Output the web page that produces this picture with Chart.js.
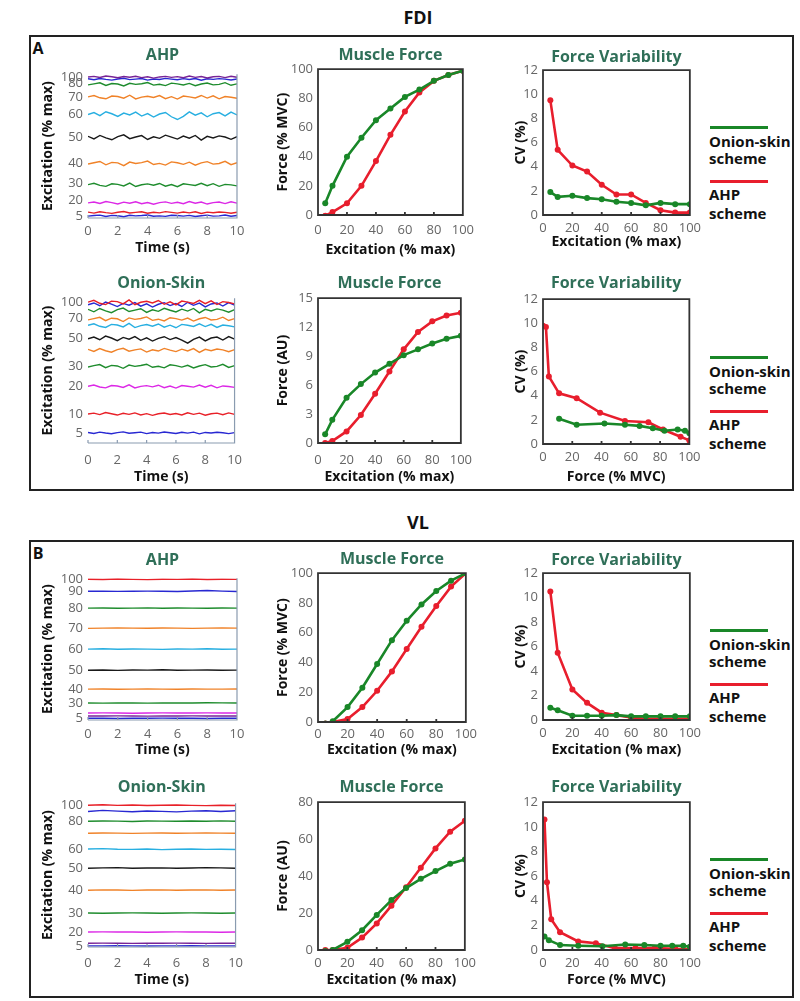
<!DOCTYPE html>
<html>
<head>
<meta charset="utf-8">
<script src="https://cdn.jsdelivr.net/npm/chart.js@4.4.1/dist/chart.umd.min.js"></script>
<style>
  body { margin: 0; background: #fff; font-family: 'Open Sans', sans-serif; }
  #page { position: relative; width: 800px; height: 1001px; overflow: hidden; }
  canvas { position: absolute; }
  .box { position: absolute; border: 2px solid #222; box-sizing: border-box; }
  .txt { position: absolute; font-weight: bold; color: #111; white-space: nowrap; line-height: 1; transform: translate(-50%, -50%); }
  .leg { position: absolute; font-weight: bold; font-size: 15px; color: #111; line-height: 1; white-space: nowrap; transform: translateY(-50%); }
  .legline { position: absolute; height: 3px; }
</style>
</head>
<body>
<div id="page">
  <div class="txt" style="left:418px;top:17px;font-size:18px;">FDI</div>
  <div class="box" style="left:29px;top:35px;width:765px;height:456px;"></div>
  <div class="txt" style="left:38px;top:48px;font-size:16px;">A</div>
  <div class="txt" style="left:418px;top:522px;font-size:18px;">VL</div>
  <div class="box" style="left:29px;top:540px;width:765px;height:458px;"></div>
  <div class="txt" style="left:38px;top:553px;font-size:16px;">B</div>
</div>
<script>
// 時間軸 (s)
const timeA = [0, 0.4, 0.8, 1.2, 1.6, 2, 2.4, 2.8, 3.2, 3.6, 4, 4.4, 4.8, 5.2, 5.6, 6, 6.4, 6.8, 7.2, 7.6, 8, 8.4, 8.8, 9.2, 9.6, 10];
const timeB = [0, 1, 2, 3, 4, 5, 6, 7, 8, 9, 10];

// 励起レベル (% max)
const excitation = [5, 10, 20, 30, 40, 50, 60, 70, 80, 90, 100];

// FDI / AHP の励起トレース
const fdiAhpTraces = [
  [98.0, 98.5, 97.7, 98.7, 98.2, 97.5, 98.4, 97.9, 98.6, 97.6, 98.2, 97.3, 98.1, 98.5, 97.8, 98.3, 97.5, 98.7, 97.8, 98.4, 97.4, 98.2, 98.5, 97.6, 98.6, 97.9],
  [96.8, 96.1, 97.0, 96.4, 95.9, 96.7, 97.2, 96.2, 96.6, 97.0, 95.9, 96.7, 96.3, 97.1, 96.6, 96.1, 96.9, 96.3, 97.0, 95.8, 96.8, 96.4, 96.9, 96.6, 96.0, 96.7],
  [92.6, 93.3, 94.0, 92.2, 93.5, 93.2, 91.8, 93.7, 92.9, 93.4, 94.2, 92.4, 93.0, 92.1, 93.8, 93.3, 92.5, 93.6, 92.0, 93.2, 93.9, 92.6, 92.9, 94.1, 92.3, 93.3],
  [84.2, 85.2, 83.6, 82.9, 84.8, 84.5, 83.3, 85.4, 82.8, 84.1, 84.7, 83.8, 85.1, 83.0, 84.4, 82.7, 84.8, 84.2, 83.5, 85.2, 83.4, 85.0, 82.9, 84.5, 84.0, 83.3],
  [72.0, 73.3, 71.2, 73.9, 72.5, 70.6, 73.0, 71.7, 73.6, 70.9, 72.6, 70.2, 72.3, 73.4, 70.4, 68.5, 70.7, 73.8, 71.5, 73.1, 70.4, 72.5, 73.3, 71.0, 73.6, 71.7],
  [56.8, 55.0, 57.4, 55.7, 54.4, 56.6, 57.8, 55.2, 56.3, 57.3, 54.6, 56.5, 55.4, 57.6, 56.2, 54.9, 57.0, 55.5, 57.4, 54.2, 56.8, 55.7, 57.1, 56.3, 54.7, 56.6],
  [37.5, 38.4, 39.3, 37.0, 38.7, 38.3, 36.4, 38.9, 37.9, 38.5, 39.6, 37.2, 38.0, 36.8, 39.0, 38.4, 37.3, 38.8, 36.7, 38.3, 39.2, 37.5, 37.9, 39.4, 37.1, 38.4],
  [23.2, 24.1, 22.7, 22.0, 23.8, 23.4, 22.3, 24.3, 21.9, 23.1, 23.7, 22.8, 24.0, 22.1, 23.3, 21.8, 23.8, 23.2, 22.6, 24.1, 22.5, 23.9, 22.0, 23.4, 23.0, 22.3],
  [10.5, 11.1, 10.1, 11.5, 10.7, 9.8, 11.0, 10.3, 11.3, 9.9, 10.8, 9.6, 10.7, 11.2, 10.2, 10.9, 9.9, 11.4, 10.3, 11.1, 9.7, 10.7, 11.1, 10.0, 11.3, 10.3],
  [4.1, 3.4, 4.3, 3.7, 3.2, 4.0, 4.5, 3.5, 3.9, 4.3, 3.3, 4.0, 3.6, 4.4, 3.9, 3.4, 4.2, 3.6, 4.3, 3.1, 4.1, 3.7, 4.2, 3.9, 3.3, 4.0],
  [1.3, 1.7, 2.0, 1.1, 1.8, 1.6, 0.9, 1.9, 1.5, 1.7, 2.1, 1.2, 1.5, 1.1, 1.9, 1.7, 1.3, 1.8, 1.0, 1.6, 2.0, 1.3, 1.5, 2.1, 1.2, 1.7]
];
const fdiAhpColors = ['purple', 'blue', 'green', 'orange', 'cyan', 'black', 'orange', 'green', 'magenta', 'red', 'blue'];
const fdiAhpTickPos = [98, 93.5, 84, 72, 56, 38, 24, 12, 1.5];
const fdiAhpTickLabels = ['100', '80', '70', '60', '50', '40', '30', '20', '5'];

// FDI / Onion-Skin の励起トレース
const fdiOnionTraces = [
  [97.3, 98.5, 96.5, 95.6, 98.0, 97.6, 96.1, 98.8, 95.5, 97.2, 97.9, 96.7, 98.4, 95.8, 97.5, 95.4, 98.0, 97.3, 96.4, 98.5, 96.2, 98.2, 95.6, 97.6, 97.0, 96.1],
  [95.5, 96.7, 94.8, 97.3, 95.9, 94.2, 96.4, 95.2, 97.0, 94.5, 96.1, 93.9, 95.8, 96.9, 94.9, 96.3, 94.3, 97.2, 95.1, 96.6, 94.0, 96.0, 96.7, 94.6, 97.0, 95.2],
  [92.3, 90.6, 92.9, 91.2, 90.0, 92.1, 93.2, 90.8, 91.8, 92.7, 90.2, 92.0, 90.9, 93.0, 91.7, 90.5, 92.4, 91.1, 92.9, 89.9, 92.3, 91.2, 92.6, 91.8, 90.3, 92.1],
  [85.0, 85.9, 86.8, 84.5, 86.2, 85.8, 83.9, 86.4, 85.4, 86.0, 87.1, 84.7, 85.5, 84.3, 86.5, 85.9, 84.9, 86.3, 84.2, 85.8, 86.7, 85.0, 85.4, 86.9, 84.6, 85.9],
  [81.3, 82.3, 80.6, 79.8, 81.9, 81.5, 80.2, 82.6, 79.7, 81.1, 81.8, 80.7, 82.2, 80.0, 81.4, 79.6, 81.9, 81.3, 80.5, 82.3, 80.4, 82.0, 79.8, 81.5, 81.0, 80.2],
  [72.0, 73.2, 71.3, 73.8, 72.5, 70.7, 72.9, 71.7, 73.5, 70.9, 72.6, 70.4, 72.3, 73.4, 71.4, 72.8, 71.0, 69.0, 71.6, 73.1, 70.5, 72.5, 73.2, 71.1, 73.5, 71.7],
  [64.7, 63.2, 65.2, 63.7, 62.7, 64.5, 65.4, 63.4, 64.3, 65.0, 62.8, 64.4, 63.5, 65.3, 64.1, 63.1, 64.8, 63.6, 65.2, 62.6, 64.7, 63.7, 64.9, 64.3, 63.0, 64.5],
  [52.5, 53.4, 54.2, 52.0, 53.6, 53.2, 51.6, 53.8, 52.9, 53.5, 54.4, 52.3, 53.0, 51.9, 54.0, 53.4, 52.4, 53.7, 51.8, 53.2, 54.1, 52.5, 52.9, 54.3, 52.2, 53.4],
  [39.2, 40.0, 38.7, 38.1, 39.7, 39.4, 38.4, 40.2, 38.0, 39.1, 39.6, 38.8, 39.9, 38.2, 39.3, 37.9, 39.7, 39.2, 38.6, 40.0, 38.5, 39.8, 38.1, 39.4, 39.0, 38.4],
  [20.0, 20.6, 19.6, 21.0, 20.2, 19.3, 20.5, 19.8, 20.8, 19.4, 20.3, 19.1, 20.2, 20.7, 19.7, 20.4, 19.4, 20.9, 19.8, 20.6, 19.2, 20.2, 20.6, 19.5, 20.8, 19.8],
  [7.3, 6.6, 7.5, 6.9, 6.4, 7.2, 7.7, 6.7, 7.1, 7.5, 6.5, 7.2, 6.8, 7.6, 7.1, 6.6, 7.4, 6.8, 7.5, 6.3, 7.3, 6.9, 7.4, 7.1, 6.5, 7.2]
];
const fdiOnionColors = ['red', 'blue', 'green', 'orange', 'cyan', 'black', 'orange', 'green', 'magenta', 'red', 'blue'];
const fdiOnionTickPos = [97, 86, 72, 53, 39, 20, 7];
const fdiOnionTickLabels = ['100', '70', '50', '30', '20', '10', '5'];

// VL / AHP の励起トレース
const vlAhpTraces = [
  [99.3, 99.1, 99.4, 99.2, 99.0, 99.3, 99.2, 99.4, 99.1, 99.3, 99.2],
  [90.8, 90.9, 90.7, 90.8, 90.9, 90.8, 90.6, 91.0, 91.3, 90.9, 90.6],
  [78.9, 79.0, 78.8, 78.9, 79.1, 78.8, 79.0, 78.9, 78.8, 79.0, 78.9],
  [64.6, 64.8, 65.0, 64.8, 64.7, 64.9, 64.8, 64.6, 64.8, 64.9, 64.8],
  [50.0, 50.2, 49.9, 50.1, 50.0, 49.8, 50.1, 50.0, 50.2, 49.9, 50.0],
  [35.1, 35.3, 35.0, 35.3, 35.2, 35.4, 35.1, 35.2, 35.3, 35.1, 35.2],
  [21.8, 21.9, 21.7, 21.8, 21.9, 21.8, 21.7, 21.9, 21.8, 21.8, 21.9],
  [12.0, 11.9, 12.1, 12.0, 11.9, 12.1, 12.0, 12.0, 12.2, 12.1, 12.0],
  [4.9, 5.0, 4.9, 4.8, 4.9, 5.0, 4.9, 4.9, 5.0, 4.9, 4.9],
  [2.8, 2.8, 2.9, 2.8, 2.7, 2.8, 2.8, 2.9, 2.8, 2.8, 2.8],
  [1.2, 1.2, 1.1, 1.2, 1.2, 1.3, 1.2, 1.2, 1.1, 1.2, 1.2]
];
const vlAhpColors = ['red', 'blue', 'green', 'orange', 'cyan', 'black', 'orange', 'green', 'magenta', 'purple', 'blue'];
const vlAhpTickPos = [99.5, 90.8, 78.9, 64.8, 50, 35.2, 21.8, 12, 1.4];
const vlAhpTickLabels = ['100', '90', '80', '70', '60', '50', '40', '30', '5'];

// VL / Onion-Skin の励起トレース
const vlOnionTraces = [
  [98.6, 98.9, 98.5, 98.7, 98.4, 98.6, 98.8, 98.5, 98.3, 98.6, 98.4],
  [94.2, 95.0, 94.5, 94.1, 94.6, 94.3, 94.0, 94.5, 94.8, 94.2, 94.7],
  [87.4, 87.6, 87.5, 87.3, 87.6, 87.5, 87.4, 87.6, 87.5, 87.7, 87.4],
  [79.1, 79.3, 79.2, 79.0, 79.2, 79.3, 79.1, 79.2, 79.3, 79.2, 79.1],
  [68.1, 68.4, 68.0, 67.9, 68.1, 67.7, 68.0, 68.1, 67.9, 68.0, 67.8],
  [54.8, 55.0, 55.2, 54.8, 54.9, 55.0, 54.8, 54.9, 55.2, 55.0, 54.8],
  [39.5, 39.7, 39.6, 39.4, 39.6, 39.7, 39.5, 39.6, 39.7, 39.5, 39.6],
  [23.6, 23.5, 23.6, 23.7, 23.6, 23.5, 23.6, 23.7, 23.6, 23.5, 23.6],
  [10.4, 10.5, 10.4, 10.4, 10.3, 10.4, 10.5, 10.4, 10.4, 10.3, 10.4],
  [2.6, 2.7, 2.6, 2.5, 2.6, 2.6, 2.7, 2.6, 2.5, 2.6, 2.6],
  [0.8, 0.8, 0.9, 0.8, 0.7, 0.8, 0.8, 0.9, 0.8, 0.8, 0.8]
];
const vlOnionColors = ['red', 'blue', 'green', 'orange', 'cyan', 'black', 'orange', 'green', 'magenta', 'purple', 'blue'];
const vlOnionTickPos = [98.6, 87.5, 68, 54.9, 39.6, 23.6, 10.4, 0.5];
const vlOnionTickLabels = ['100', '80', '60', '50', '40', '30', '20', '5'];

// 筋力 (% MVC / AU) と CV (%)
const fdiForceOnion = [8, 20, 40, 53, 65, 73, 81, 86, 92, 96, 99];
const fdiForceAhp = [-0.5, 2, 8, 20, 37, 55, 71, 84, 92, 96, 99];
const fdiCvOnion = [1.9, 1.5, 1.6, 1.4, 1.3, 1.1, 1.0, 0.8, 1.0, 0.9, 0.9];
const fdiCvAhp = [9.5, 5.4, 4.1, 3.6, 2.5, 1.7, 1.7, 1.0, 0.4, 0.2, 0.2];
const fdiForceAuOnion = [0.9, 2.4, 4.7, 6.1, 7.3, 8.2, 9.1, 9.7, 10.3, 10.8, 11.1];
const fdiForceAuAhp = [0, 0.2, 1.2, 2.9, 5.1, 7.4, 9.7, 11.5, 12.6, 13.2, 13.5];
const fdiCvForceOnionX = [11, 23, 42, 56, 66, 75, 83, 92, 97, 100];
const fdiCvForceOnionY = [2.1, 1.6, 1.7, 1.6, 1.5, 1.3, 1.1, 1.2, 1.1, 0.9];
const fdiCvForceAhpX = [0, 2, 4, 11, 23, 39, 56, 72, 82, 94, 100];
const fdiCvForceAhpY = [9.8, 9.7, 5.6, 4.2, 3.8, 2.6, 1.9, 1.8, 1.2, 0.6, 0.3];

const vlForceOnion = [-1, 0.5, 10, 23, 39, 55, 68, 79, 88, 95, 100];
const vlForceAhp = [-1, 0, 2, 10, 21, 34, 49, 64, 78, 91, 100];
const vlCvOnion = [1.0, 0.8, 0.35, 0.35, 0.35, 0.4, 0.3, 0.3, 0.3, 0.3, 0.3];
const vlCvAhp = [10.5, 5.5, 2.5, 1.4, 0.6, 0.4, 0.2, 0.1, 0.1, 0.1, 0.1];
const vlForceAuOnion = [-0.5, 0, 4.4, 10.7, 19, 27, 33.5, 38.5, 42.7, 46.7, 49];
const vlForceAuAhp = [0, 0, 1.2, 6.7, 14.4, 24, 34, 44.5, 55, 64, 70];
const vlCvForceOnionX = [1, 4, 11.6, 24, 40.5, 56, 69, 80, 88, 95.5, 100];
const vlCvForceOnionY = [1.1, 0.8, 0.4, 0.35, 0.3, 0.45, 0.4, 0.35, 0.35, 0.35, 0.27];
const vlCvForceAhpX = [1, 2.7, 5.6, 11.6, 24, 36, 49, 63, 76, 90, 100];
const vlCvForceAhpY = [10.6, 5.5, 2.5, 1.45, 0.7, 0.55, 0.15, 0.15, 0.15, 0.1, 0.05];

// 色
const palette = {
  red: 'rgb(232,32,40)',
  blue: 'rgb(40,40,210)',
  green: 'rgb(30,140,45)',
  orange: 'rgb(240,130,40)',
  cyan: 'rgb(40,175,225)',
  black: 'rgb(25,25,25)',
  magenta: 'rgb(220,40,230)',
  purple: 'rgb(120,35,150)'
};
const onionColor = 'rgb(25,135,40)';
const ahpColor = 'rgb(232,30,45)';
const titleColor = '#2f6f58';
const FONT = "'Open Sans', sans-serif";

const page = document.getElementById('page');

// 枠線プラグイン
const framePlugin = {
  id: 'frame',
  afterDraw(chart, args, o) {
    const { ctx, chartArea: a, scales } = chart;
    ctx.save();
    ctx.strokeStyle = o.color;
    ctx.lineWidth = o.width;
    ctx.beginPath();
    if (o.full) {
      ctx.rect(a.left, a.top, a.right - a.left, a.bottom - a.top);
    } else {
      ctx.moveTo(a.left, a.bottom);
      ctx.lineTo(a.right, a.bottom);
      ctx.lineTo(a.right, a.top);
    }
    // 内向きの目盛り
    scales.x.ticks.forEach(t => {
      const px = scales.x.getPixelForValue(t.value);
      ctx.moveTo(px, a.bottom);
      ctx.lineTo(px, a.bottom - 3);
    });
    ctx.stroke();
    ctx.restore();
  }
};

function toPoints(xs, ys) {
  return ys.map((y, i) => ({ x: xs[i], y: y }));
}

function makePanel(geo, cfg) {
  const cv = document.createElement('canvas');
  cv.width = geo.w;
  cv.height = geo.h;
  cv.style.left = geo.x + 'px';
  cv.style.top = geo.y + 'px';
  cv.style.width = geo.w + 'px';
  cv.style.height = geo.h + 'px';
  page.appendChild(cv);

  const tickFont = { family: FONT, size: 13 };
  const axisFont = { family: FONT, size: 14, weight: 'bold' };

  const yScale = {
    type: 'linear',
    min: cfg.yMin,
    max: cfg.yMax,
    grid: { display: false, drawTicks: false },
    border: { display: false },
    ticks: { stepSize: cfg.yStep, padding: 5, color: '#666', font: tickFont, autoSkip: false },
    title: { display: true, text: cfg.yTitle, color: '#111', font: axisFont, padding: 0 },
    afterFit: s => { s.width = geo.yW; }
  };
  if (cfg.yTickPos) {
    yScale.afterBuildTicks = s => { s.ticks = cfg.yTickPos.map(v => ({ value: v })); };
    yScale.ticks.callback = (v, i) => cfg.yTickLabels[i];
  }

  new Chart(cv.getContext('2d'), {
    type: 'line',
    data: { datasets: cfg.datasets },
    options: {
      responsive: false,
      animation: false,
      devicePixelRatio: 1,
      layout: { padding: { left: 0, top: 0, right: 14, bottom: 0 } },
      elements: { line: { tension: 0 } },
      plugins: {
        legend: { display: false },
        tooltip: { enabled: false },
        title: {
          display: true, text: cfg.title, color: titleColor, fullSize: false,
          font: { family: FONT, size: 16, weight: 'bold' },
          padding: { top: 0, bottom: geo.tbp - 1 }
        },
        frame: cfg.frame
      },
      scales: {
        x: {
          type: 'linear',
          min: cfg.xMin,
          max: cfg.xMax,
          grid: { display: false, drawTicks: false },
          border: { display: false },
          ticks: { stepSize: cfg.xStep, padding: geo.tp, color: '#666', font: tickFont, maxRotation: 0 },
          title: { display: true, text: cfg.xTitle, color: '#111', font: axisFont, padding: 0 },
          afterFit: s => { s.height = geo.xH; }
        },
        y: yScale
      }
    },
    plugins: [framePlugin]
  });
}

function traceSets(traces, colors, times) {
  return traces.map((ys, i) => ({
    data: toPoints(times, ys),
    borderColor: palette[colors[i]],
    borderWidth: 1.4,
    pointRadius: 0
  }));
}

function pairSets(onionX, onionY, ahpX, ahpY) {
  return [
    { data: toPoints(onionX, onionY), borderColor: onionColor, backgroundColor: onionColor,
      borderWidth: 2.6, pointRadius: 3, pointBorderWidth: 0 },
    { data: toPoints(ahpX, ahpY), borderColor: ahpColor, backgroundColor: ahpColor,
      borderWidth: 2.6, pointRadius: 3, pointBorderWidth: 0 }
  ];
}

const leftFrame = { color: '#8a9bb0', width: 1.2, full: false };
const boxFrame = { color: '#333', width: 1.8, full: true };

function excitationPanel(geo, title, traces, colors, times, pos, labels) {
  makePanel(geo, {
    title: title, xTitle: 'Time (s)', yTitle: 'Excitation (% max)',
    xMin: 0, xMax: 10, xStep: 2, yMin: 0, yMax: 100,
    yTickPos: pos, yTickLabels: labels,
    datasets: traceSets(traces, colors, times), frame: leftFrame
  });
}

function forcePanel(geo, yTitle, yMax, yStep, onion, ahp) {
  makePanel(geo, {
    title: 'Muscle Force', xTitle: 'Excitation (% max)', yTitle: yTitle,
    xMin: 0, xMax: 100, xStep: 20, yMin: 0, yMax: yMax, yStep: yStep,
    datasets: pairSets(excitation, onion, excitation, ahp), frame: boxFrame
  });
}

function cvPanel(geo, xTitle, onionX, onionY, ahpX, ahpY) {
  makePanel(geo, {
    title: 'Force Variability', xTitle: xTitle, yTitle: 'CV (%)',
    xMin: 0, xMax: 100, xStep: 20, yMin: 0, yMax: 12, yStep: 2,
    datasets: pairSets(onionX, onionY, ahpX, ahpY), frame: boxFrame
  });
}

// --- FDI ---
excitationPanel({ x: 40, y: 46, w: 211, h: 210, yW: 48, xH: 38, tbp: 10, tp: 5 },
  'AHP', fdiAhpTraces, fdiAhpColors, timeA, fdiAhpTickPos, fdiAhpTickLabels);
forcePanel({ x: 275, y: 46, w: 206, h: 212, yW: 43, xH: 43, tbp: 5, tp: 7 },
  'Force (% MVC)', 100, 20, fdiForceOnion, fdiForceAhp);
cvPanel({ x: 513, y: 48, w: 193, h: 202, yW: 30, xH: 35, tbp: 4, tp: 5 },
  'Excitation (% max)', excitation, fdiCvOnion, excitation, fdiCvAhp);

excitationPanel({ x: 40, y: 274, w: 211, h: 211, yW: 48, xH: 42, tbp: 6, tp: 9 },
  'Onion-Skin', fdiOnionTraces, fdiOnionColors, timeA, fdiOnionTickPos, fdiOnionTickLabels);
forcePanel({ x: 275, y: 274, w: 206, h: 211, yW: 43, xH: 42, tbp: 6, tp: 9 },
  'Force (AU)', 15, 3, fdiForceAuOnion, fdiForceAuAhp);
cvPanel({ x: 513, y: 274, w: 193, h: 211, yW: 30, xH: 41, tbp: 7, tp: 5.5 },
  'Force (% MVC)', fdiCvForceOnionX, fdiCvForceOnionY, fdiCvForceAhpX, fdiCvForceAhpY);

// --- VL ---
excitationPanel({ x: 40, y: 551, w: 211, h: 207, yW: 48, xH: 38, tbp: 9, tp: 6 },
  'AHP', vlAhpTraces, vlAhpColors, timeB, vlAhpTickPos, vlAhpTickLabels);
forcePanel({ x: 275, y: 550, w: 206, h: 208, yW: 43, xH: 36, tbp: 5, tp: 4 },
  'Force (% MVC)', 100, 20, vlForceOnion, vlForceAhp);
cvPanel({ x: 513, y: 551, w: 193, h: 207, yW: 30, xH: 38, tbp: 4, tp: 5 },
  'Excitation (% max)', excitation, vlCvOnion, excitation, vlCvAhp);

excitationPanel({ x: 40, y: 778, w: 211, h: 210, yW: 48, xH: 41, tbp: 7, tp: 8 },
  'Onion-Skin', vlOnionTraces, vlOnionColors, timeB, vlOnionTickPos, vlOnionTickLabels);
forcePanel({ x: 275, y: 778, w: 206, h: 210, yW: 43, xH: 38, tbp: 6, tp: 5 },
  'Force (AU)', 80, 20, vlForceAuOnion, vlForceAuAhp);
cvPanel({ x: 513, y: 778, w: 193, h: 210, yW: 30, xH: 38, tbp: 6, tp: 5 },
  'Force (% MVC)', vlCvForceOnionX, vlCvForceOnionY, vlCvForceAhpX, vlCvForceAhpY);

// 凡例 (右側)
[127, 357, 630, 859].forEach(g => {
  const items = [
    { type: 'line', y: g, color: onionColor },
    { type: 'text', y: g + 14, text: 'Onion-skin' },
    { type: 'text', y: g + 31, text: 'scheme' },
    { type: 'line', y: g + 54, color: ahpColor },
    { type: 'text', y: g + 67, text: 'AHP' },
    { type: 'text', y: g + 86, text: 'scheme' }
  ];
  items.forEach(it => {
    const el = document.createElement('div');
    if (it.type === 'line') {
      el.className = 'legline';
      el.style.left = '710px';
      el.style.width = '58px';
      el.style.top = (it.y - 1.5) + 'px';
      el.style.background = it.color;
    } else {
      el.className = 'leg';
      el.style.left = '709px';
      el.style.top = it.y + 'px';
      el.textContent = it.text;
    }
    page.appendChild(el);
  });
});
</script>
</body>
</html>
